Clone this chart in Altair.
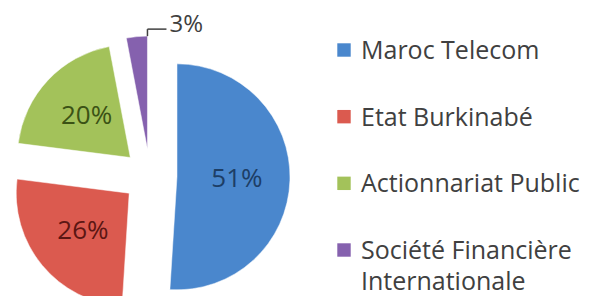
import altair as alt
import pandas as pd

categories = ["Maroc Telecom", "Etat Burkinabé", "Actionnariat Public",
              "Société Financière Internationale"]
shares = [51, 26, 20, 3]
labels = ["51%", "26%", "20%", "3%"]
slice_colors = ["#4A87CD", "#DB5A4F", "#A3C25A", "#8561AE"]
text_colors = ["#1D3E66", "#5C1613", "#3B5215", "#404040"]

df = pd.DataFrame({"cat": categories, "share": shares, "label": labels,
                   "order": list(range(len(categories)))})

CX, CY = 142, 168      # common pie centre (px)
R = 113                # radius
EXPLODE = 27           # explosion distance
LABEL_R = 60           # inside label distance
FONT = "Open Sans"

base = (
    alt.Chart(df)
    .transform_window(cum="sum(share)", sort=[alt.SortField("order")], frame=[None, 0])
    .transform_joinaggregate(total="sum(share)")
    .transform_calculate(
        t1="2*PI*datum.cum/datum.total",
        t0="2*PI*(datum.cum-datum.share)/datum.total",
    )
    .transform_calculate(mid="(datum.t0+datum.t1)/2")
    .transform_calculate(
        px=f"{CX}+{EXPLODE}*sin(datum.mid)",
        py=f"{CY}-{EXPLODE}*cos(datum.mid)",
    )
    .transform_calculate(
        lx=f"datum.px+{LABEL_R}*sin(datum.mid)",
        ly=f"datum.py-{LABEL_R}*cos(datum.mid)",
        ex=f"datum.px+{R}*sin(datum.t1)",
        ey=f"datum.py-{R}*cos(datum.t1)",
    )
    .transform_calculate(
        ly2="datum.ey-7",
        lx2="datum.ex+19",
        tx="datum.ex+22",
        ty="datum.ey-11",
    )
)

arcs = base.mark_arc(outerRadius=R, stroke="#ffffff", strokeWidth=0.5).encode(
    theta=alt.Theta("t0:Q", scale=None),
    theta2="t1:Q",
    x=alt.X("px:Q", scale=None, axis=None),
    y=alt.Y("py:Q", scale=None, axis=None),
    color=alt.Color("cat:N", sort=categories,
                    scale=alt.Scale(domain=categories, range=slice_colors),
                    legend=None),
)

inner = base.transform_filter("datum.share >= 5").mark_text(
    font=FONT, fontSize=26, align="center", baseline="middle"
).encode(
    x=alt.X("lx:Q", scale=None, axis=None),
    y=alt.Y("ly:Q", scale=None, axis=None),
    text="label:N",
    color=alt.Color("cat:N", scale=alt.Scale(domain=categories, range=text_colors),
                    legend=None),
)

small = base.transform_filter("datum.share < 5")

lead_v = small.mark_rule(color="#404040", strokeWidth=1.5).encode(
    x=alt.X("ex:Q", scale=None, axis=None),
    y=alt.Y("ey:Q", scale=None, axis=None),
    y2="ly2:Q",
)
lead_h = small.mark_rule(color="#404040", strokeWidth=1.5).encode(
    x=alt.X("ex:Q", scale=None, axis=None),
    x2="lx2:Q",
    y=alt.Y("ly2:Q", scale=None, axis=None),
)
outer = small.mark_text(
    font=FONT, fontSize=24, align="left", baseline="middle", color="#404040"
).encode(
    x=alt.X("tx:Q", scale=None, axis=None),
    y=alt.Y("ty:Q", scale=None, axis=None),
    text="label:N",
)

# legend drawn as a layer: square keys + (possibly wrapped) names
leg_base = alt.Chart(df).transform_calculate(
    lines="length(datum.cat) > 22 ? [substring(datum.cat, 0, lastindexof(datum.cat, ' ')), "
          "substring(datum.cat, lastindexof(datum.cat, ' ') + 1)] : datum.cat"
)
leg_y = alt.Y("cat:N", axis=None,
              scale=alt.Scale(type="point", domain=categories, range=[42, 242], padding=0))

leg_keys = leg_base.mark_square(size=180, opacity=1).encode(
    x=alt.value(336),
    y=leg_y,
    color=alt.Color("cat:N", scale=alt.Scale(domain=categories, range=slice_colors),
                    legend=None),
)
leg_text = leg_base.mark_text(
    font=FONT, fontSize=25, align="left", baseline="alphabetic", dy=9,
    lineHeight=31, color="#404040"
).encode(
    x=alt.value(353),
    y=leg_y,
    text="lines:N",
)

pie = alt.layer(arcs, inner, lead_v, lead_h, outer).resolve_scale(color="independent")
legend = alt.layer(leg_keys, leg_text)

chart = (
    alt.layer(pie, legend)
    .resolve_scale(color="independent", x="independent", y="independent")
    .properties(width=578, height=288, autosize="none", padding=0,
                background="#ffffff")
    .configure_view(stroke=None)
)

chart.save("out.html", embed_options={"renderer": "svg", "actions": False})
